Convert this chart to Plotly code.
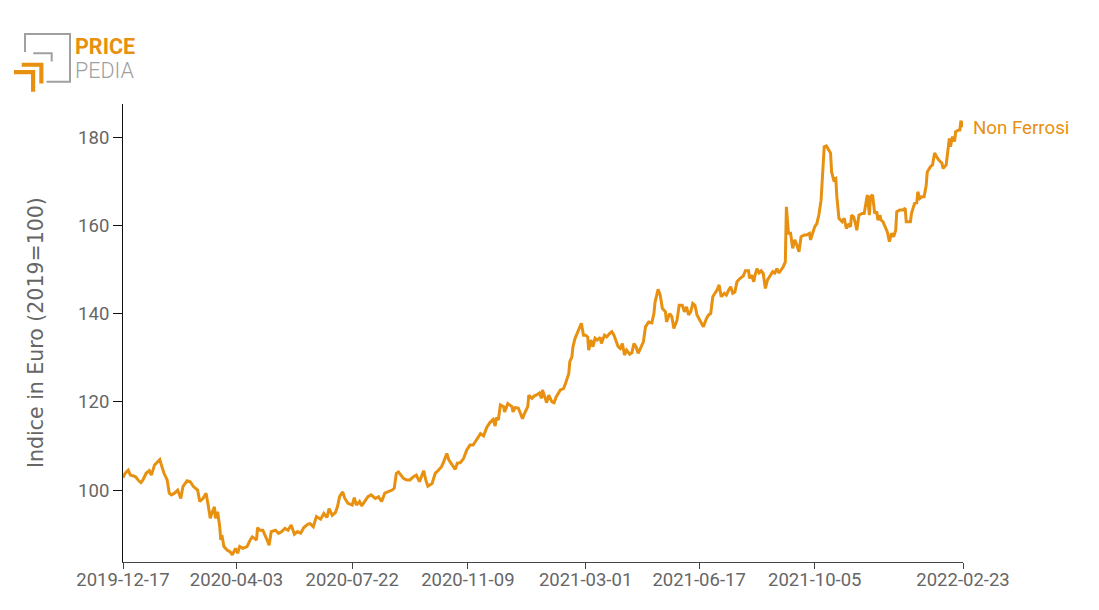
import pandas as pd
import plotly.graph_objects as go

START = "2019-12-17"
# days after START
day_offsets = [
    0, 2, 5, 7, 10, 12, 15, 17, 19, 22, 25, 27, 30, 32, 35, 37, 39, 42, 44, 46,
    49, 52, 55, 57, 61, 64, 67, 71, 73, 76, 79, 81, 83, 85, 87, 88, 90, 92, 93, 94,
    96, 99, 102, 104, 107, 109, 111, 114, 118, 121, 123, 127, 128, 130, 133, 137, 139, 141, 145, 148,
    151, 154, 157, 160, 163, 166, 169, 172, 176,
    178, 181, 184, 188, 191, 194, 196, 199, 202, 204, 206, 209, 211, 214, 218, 220, 222, 225, 227, 230,
    233, 236, 240, 243, 246, 249, 252, 256, 258, 260, 262, 264, 267, 270, 273, 276, 279, 282, 284, 286,
    288, 290, 294, 297, 300, 303, 305, 308, 310, 313, 316, 318, 321, 324, 327, 330, 333, 336, 340, 343,
    346, 349, 352, 354, 355, 357, 359,
    362, 363, 366, 368, 370, 371, 373, 376, 378, 380, 382, 385, 386, 389, 391, 393, 396, 398, 399, 401,
    403, 405, 408, 410, 412, 416, 419, 421, 424, 425, 427, 428, 430, 432, 435, 436, 438, 440, 442, 443,
    445, 447, 449, 451, 454, 455, 458, 460, 463, 465, 467, 469, 471, 473, 475, 477, 479, 482, 484, 486,
    488, 490, 492, 495, 497, 500, 503, 505, 506, 508, 509,
    511, 513, 516, 517, 520, 522, 524, 527, 529, 532, 534, 536, 538, 540, 542, 544, 546, 548, 550, 552,
    555, 557, 559, 561, 563, 565, 567, 569, 572, 574, 576, 578, 580, 582, 584, 587, 590, 592, 595, 596,
    598, 600, 601, 603, 605, 607, 609, 611, 613, 615, 618, 620, 622, 624, 627, 628, 630, 631, 633, 635,
    637, 639, 641, 643, 645, 648, 650, 653, 654, 656, 658, 660, 662, 664, 665, 667, 669, 671, 673, 674,
    676, 678, 679, 681, 684, 686, 688, 690, 692, 693, 695, 697, 698, 700, 703, 705, 707, 708, 710, 711,
    713, 715, 717, 718, 720, 721, 723, 725, 727, 729, 731, 733, 735, 736, 739, 742, 744, 745, 749, 750,
    752, 753, 755, 756, 758, 760, 762, 764, 765, 768, 770, 772, 774, 776, 779, 780, 783, 784, 786, 787,
    789, 791, 792, 795, 796, 797, 799,
]
non_ferrosi = [
    102.8, 103.8, 104.5, 103.4, 103.2, 103.0, 102.1, 101.7, 102.3, 103.8, 104.4, 103.4, 105.7, 106.2, 106.9, 105.3, 103.8, 102.3, 99.3, 98.9,
    99.3, 100.0, 98.1, 100.8, 102.1, 101.9, 100.8, 100.0, 97.4, 98.1, 99.3, 96.6, 93.6, 95.1, 96.2, 93.6, 95.1, 91.7, 88.7, 89.8,
    87.2, 86.4, 86.0, 85.3, 86.8, 85.7, 87.2, 86.8, 87.2, 88.7, 89.4, 88.7, 91.5, 90.9, 90.9, 88.7, 87.5, 90.6, 90.9, 90.2,
    90.6, 91.3, 90.9, 92.1, 90.0, 90.6, 90.2, 91.5, 92.3,
    92.4, 91.7, 94.0, 93.4, 94.7, 93.8, 95.8, 94.3, 94.9, 96.2, 98.5, 99.6, 98.1, 97.0, 96.6, 98.3, 96.6, 97.4, 96.4, 97.4,
    98.5, 98.9, 98.1, 98.5, 97.4, 99.3, 99.6, 100.0, 100.4, 103.8, 104.1, 103.4, 102.6, 102.3, 102.3, 103.0, 103.4, 101.9, 103.0, 104.4,
    102.3, 100.9, 101.5, 103.8, 104.5, 105.3, 106.4, 108.3, 106.8, 105.7, 104.7, 106.1, 106.2, 107.2, 109.1, 110.2, 110.2, 111.3, 112.8, 112.3,
    114.2, 115.3, 116.0, 114.5, 116.4, 115.9, 119.3,
    118.9, 117.7, 119.6, 119.3, 118.9, 117.7, 118.7, 118.6, 117.4, 116.2, 117.4, 118.9, 121.5, 120.8, 121.3, 121.5, 122.0, 120.8, 122.7, 121.1,
    119.8, 121.5, 120.0, 119.8, 121.1, 122.7, 123.0, 124.2, 126.4, 129.1, 130.2, 132.5, 134.4, 135.5, 137.0, 137.8, 135.1, 135.1, 134.7, 131.7,
    134.0, 132.5, 134.4, 134.0, 134.6, 133.2, 135.1, 134.7, 135.5, 135.9, 135.1, 134.0, 132.5, 132.1, 133.2, 130.6, 131.7, 130.8, 131.1, 133.2,
    132.5, 131.0, 132.1, 133.6, 137.0, 138.1, 137.9, 140.0, 142.5, 144.2, 145.5,
    144.2, 141.2, 140.4, 138.1, 140.0, 139.3, 136.6, 138.5, 141.9, 141.9, 140.4, 141.5, 139.7, 140.4, 142.3, 141.9, 139.7, 138.9, 138.1, 137.0,
    138.9, 139.7, 140.0, 143.8, 144.6, 145.3, 146.5, 143.8, 144.6, 144.2, 145.3, 146.1, 144.6, 144.9, 147.2, 148.0, 148.5, 149.7, 149.7, 148.0,
    148.7, 147.2, 148.5, 150.2, 149.2, 149.7, 149.1, 145.7, 147.6, 148.3, 149.5, 149.2, 150.2, 149.2, 150.2, 150.6, 151.7, 164.2, 158.2, 158.2,
    154.8, 156.7, 155.5, 154.0, 157.4, 157.8, 157.8, 158.2, 156.7, 158.5, 159.7, 160.4, 162.5, 165.7, 169.5, 177.8, 178.0, 177.1, 176.4, 172.1,
    170.3, 170.6, 166.5, 161.6, 160.8, 161.6, 159.3, 160.1, 159.7, 162.3, 161.9, 160.1, 158.9, 162.3, 162.7, 162.7, 165.0, 166.9, 162.3, 166.5,
    166.9, 162.7, 163.1, 161.2, 162.3, 161.2, 160.8, 159.7, 158.5, 156.3, 158.2, 157.4, 158.9, 163.1, 163.5, 163.5, 163.9, 160.8, 160.8, 162.7,
    164.6, 165.0, 165.1, 167.6, 166.1, 166.5, 166.5, 169.1, 172.1, 173.3, 173.7, 176.4, 175.5, 174.8, 174.1, 172.9, 173.7, 175.9, 179.7, 177.8,
    180.1, 179.0, 181.2, 181.6, 181.6, 183.7, 182.3,
]
series_name = "Non Ferrosi"
x_tick_labels = ["2019-12-17", "2020-04-03", "2020-07-22", "2020-11-09",
                 "2021-03-01", "2021-06-17", "2021-10-05", "2022-02-23"]
y_tick_values = [100, 120, 140, 160, 180]
y_title = "Indice in Euro (2019=100)"

dates = pd.Timestamp(START) + pd.to_timedelta(day_offsets, unit="D")

ORANGE = "#E8900F"
GREY = "#666666"
LOGO_GREY = "#a0a0a0"
W, H = 1099, 610
ML, MR, MT, MB = 115, 144, 96, 56
PW, PH = W - ML - MR, H - MT - MB
OFF = 8  # page body margin


def px(x):  # screen x -> paper
    return (x - OFF - ML) / PW


def py(y):  # screen y -> paper
    return (H - MB - (y - OFF)) / PH


fig = go.Figure()
fig.add_trace(go.Scatter(x=dates, y=non_ferrosi, mode="lines",
                         line=dict(color=ORANGE, width=3), name=series_name,
                         showlegend=False, hoverinfo="x+y"))

fig.add_annotation(x=dates[-1], y=non_ferrosi[-1], text=series_name,
                   xanchor="left", yanchor="middle", xshift=8, yshift=-1,
                   showarrow=False, font=dict(color=ORANGE, size=18.7, family="Roboto"))

fig.add_annotation(xref="paper", yref="paper", x=px(36), y=py(333), text=y_title,
                   textangle=-90, xanchor="center", yanchor="middle", showarrow=False,
                   font=dict(size=20.5, color=GREY, family="DejaVu Sans"))

# logo
def P(pts, close=False):
    s = "M " + " L ".join(f"{px(a)},{py(b)}" for a, b in pts)
    return s + (" Z" if close else "")


shapes = [
    dict(type="path", xref="paper", yref="paper",
         path=P([(25, 52), (25, 34), (70, 34), (70, 81.7), (46.5, 81.7)]),
         line=dict(color=LOGO_GREY, width=2)),
    dict(type="path", xref="paper", yref="paper",
         path=P([(33.3, 53.3), (51.7, 53.3), (51.7, 61.5)]),
         line=dict(color=LOGO_GREY, width=2)),
    dict(type="path", xref="paper", yref="paper",
         path=P([(21.7, 62.7), (43.4, 62.7), (43.4, 83.4), (39.3, 83.4), (39.3, 66.8), (21.7, 66.8)], True),
         line=dict(width=0), fillcolor=ORANGE),
    dict(type="path", xref="paper", yref="paper",
         path=P([(14, 70), (35.2, 70), (35.2, 91.8), (31, 91.8), (31, 74.2), (14, 74.2)], True),
         line=dict(width=0), fillcolor=ORANGE),
]
fig.update_layout(shapes=shapes)
fig.add_annotation(xref="paper", yref="paper", x=px(74.3), y=py(46.8), text="<b>PRICE</b>",
                   xanchor="left", yanchor="middle", showarrow=False, borderpad=0,
                   font=dict(color=ORANGE, size=21.5, family="Roboto"))
fig.add_annotation(xref="paper", yref="paper", x=px(74.3), y=py(70.5), text="PEDIA",
                   xanchor="left", yanchor="middle", showarrow=False, borderpad=0,
                   font=dict(color=LOGO_GREY, size=21.5, family="Roboto", weight=300))

fig.update_layout(
    width=W, height=H,
    margin=dict(l=ML, r=MR, t=MT, b=MB, pad=0),
    paper_bgcolor="white", plot_bgcolor="white",
    font=dict(family="Roboto", color=GREY),
    xaxis=dict(range=[pd.Timestamp(x_tick_labels[0]), pd.Timestamp(x_tick_labels[-1])],
               tickvals=[pd.Timestamp(t) for t in x_tick_labels], ticktext=x_tick_labels,
               showgrid=False, zeroline=False, showline=True, linecolor="#444444", linewidth=1,
               ticks="outside", ticklen=6, tickcolor="#444444", automargin=False,
               ticklabelstandoff=-5,
               tickfont=dict(size=18.5, color=GREY, family="Roboto")),
    yaxis=dict(range=[83.7, 187.5], tickvals=y_tick_values,
               showgrid=False, zeroline=False, showline=True, linecolor="#111111", linewidth=1,
               ticks="outside", ticklen=9, tickcolor="#111111", automargin=False,
               tickfont=dict(size=18.5, color=GREY, family="Roboto")),
)

fig.write_html("out.html")
